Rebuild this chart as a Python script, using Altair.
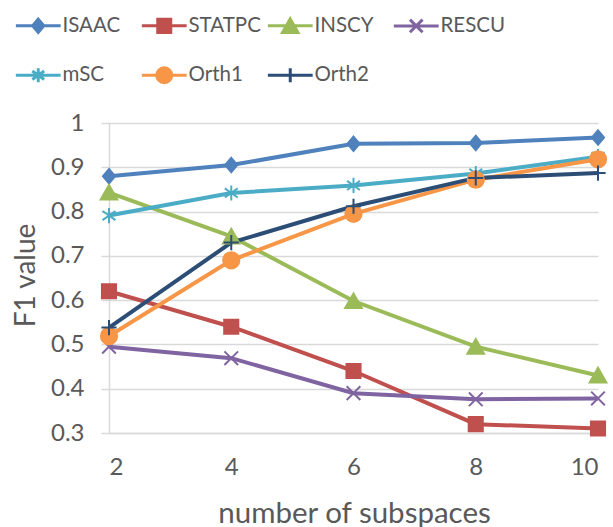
import altair as alt
import pandas as pd

# F1 value per number of subspaces, one list per method
subspaces = [2, 4, 6, 8, 10]
methods = ["ISAAC", "STATPC", "INSCY", "RESCU", "mSC", "Orth1", "Orth2"]
isaac = [0.880, 0.905, 0.953, 0.955, 0.967]
statpc = [0.620, 0.540, 0.440, 0.320, 0.310]
inscy = [0.843, 0.744, 0.598, 0.495, 0.430]
rescu = [0.495, 0.469, 0.390, 0.376, 0.378]
msc = [0.791, 0.842, 0.859, 0.886, 0.924]
orth1 = [0.519, 0.690, 0.795, 0.872, 0.918]
orth2 = [0.538, 0.730, 0.812, 0.876, 0.887]
y_ticks = [0.3, 0.4, 0.5, 0.6, 0.7, 0.8, 0.9, 1.0]

# marker kind used by each method
markers = ["diamond", "square", "triangle", "x", "asterisk", "circle", "plus"]

series_values = dict(zip(methods, [isaac, statpc, inscy, rescu, msc, orth1, orth2]))
marker_of = dict(zip(methods, markers))
df = pd.DataFrame(
    [{"method": m, "marker": marker_of[m], "subspaces": x, "f1": v}
     for m in methods for x, v in zip(subspaces, series_values[m])]
)

# styling
colors = ["#4F81BD", "#C0504D", "#9BBB59", "#8064A2", "#4BACC6", "#F79646", "#2C4D75"]
marker_paths = [
    "M0,-0.95L0.8,0L0,0.95L-0.8,0Z",                       # diamond
    "M-0.93,-0.93H0.93V0.93H-0.93Z",                         # square
    "M0,-1L1.1,0.93L-1.1,0.93Z",                             # triangle
    "M-0.9,-0.9L0.9,0.9M-0.9,0.9L0.9,-0.9",                  # x
    "M0,-1V1M-0.85,-0.6L0.85,0.6M-0.85,0.6L0.85,-0.6",       # asterisk
    "M1.07,0A1.07,1.07,0,1,1,-1.07,0A1.07,1.07,0,1,1,1.07,0Z",  # circle
    "M0,-1V1M-1,0H1",                                        # plus
]
legend_bar = "M-3.2,0H3.2"
legend_paths = [legend_bar + p for p in marker_paths]
legend_shape_expr = "[{}][indexof([{}], datum.value)]".format(
    ",".join("'" + p + "'" for p in legend_paths),
    ",".join("'" + m + "'" for m in methods),
)
legend_color_expr = "scale('color', datum.value)"

FONT = "Lato"
TEXT = "#595959"
GRID = "#D9D9D9"

color_scale = alt.Scale(domain=methods, range=colors)

x_enc = alt.X(
    "subspaces:Q",
    scale=alt.Scale(domain=[2, 10], nice=False, zero=False),
    axis=alt.Axis(
        values=subspaces, grid=False, ticks=False, tickSize=0,
        domainColor=GRID, domainWidth=1.5,
        labelFont=FONT, labelFontSize=24, labelColor=TEXT, labelPadding=22,
        title="number of subspaces", titleFont=FONT, titleFontSize=29.5,
        titleFontWeight="normal", titleColor=TEXT,
        titleX=245, titleY=89, titleBaseline="alphabetic",
    ),
)
y_enc = alt.Y(
    "f1:Q",
    scale=alt.Scale(domain=[0.3, 1.0], nice=False, zero=False),
    axis=alt.Axis(
        values=y_ticks, format=".1~f",
        grid=True, gridColor=GRID, gridWidth=1.5,
        ticks=True, tickSize=8, tickColor=GRID, tickWidth=1.5,
        domainColor=GRID, domainWidth=1.5,
        labelFont=FONT, labelFontSize=24, labelColor=TEXT, labelPadding=17,
        title="F1 value", titleFont=FONT, titleFontSize=28,
        titleFontWeight="normal", titleColor=TEXT,
        titleX=-75, titleY=152, titleAngle=-90, titleAlign="center",
        titleBaseline="alphabetic",
    ),
)

base = alt.Chart(df)

lines = base.mark_line(strokeWidth=4, opacity=1).encode(
    x=x_enc,
    y=y_enc,
    color=alt.Color("method:N", scale=color_scale),
    detail="method:N",
)

points = base.mark_point(
    filled=True, size=230, strokeWidth=2, opacity=1, clip=False
).encode(
    x=x_enc,
    y=y_enc,
    color=alt.Color(
        "method:N",
        scale=color_scale,
        legend=alt.Legend(
            title=None,
            orient="none",
            legendX=-91,
            legendY=-108,
            direction="horizontal",
            columns=4,
            gridAlign="all",
            columnPadding=0,
            rowPadding=22,
            symbolSize=196,
            symbolOffset=10,
            symbolType=alt.ExprRef(expr=legend_shape_expr),
            symbolStrokeColor=alt.ExprRef(expr=legend_color_expr),
            symbolStrokeWidth=3,
            symbolOpacity=1,
            labelOffset=14,
            labelFont=FONT,
            labelFontSize=20.5,
            labelColor=TEXT,
            labelLimit=200,
        ),
    ),
    stroke=alt.Stroke("method:N", scale=alt.Scale(domain=methods, range=colors), legend=None),
    shape=alt.Shape("marker:N", scale=alt.Scale(domain=markers, range=marker_paths), legend=None),
)

chart = (
    alt.layer(lines, points)
    .properties(
        width=489,
        height=310,
        autosize=alt.AutoSizeParams(type="none"),
        padding={"left": 109, "top": 123, "right": 15, "bottom": 94},
        background="white",
    )
    .configure_view(stroke=None)
)

chart.save("out.html", embed_options={"renderer": "svg", "actions": False})
